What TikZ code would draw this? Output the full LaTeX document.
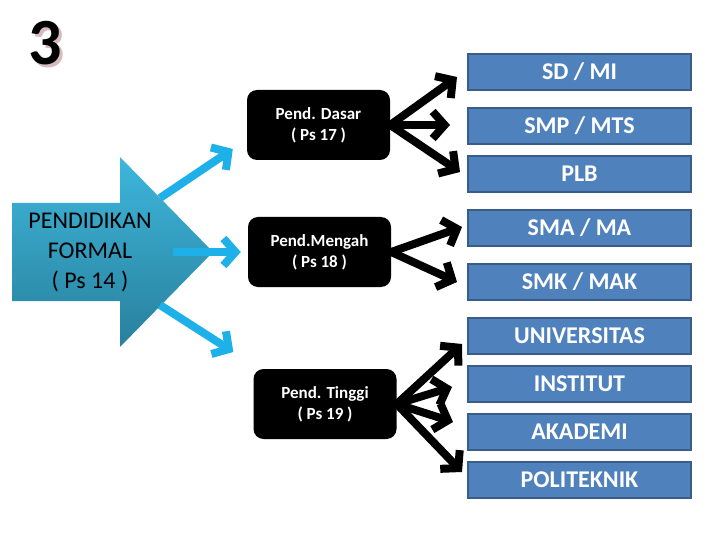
\documentclass[tikz,border=0pt]{standalone}
\usepackage{fontspec}
\setmainfont{Carlito}
\usetikzlibrary{arrows.meta, calc, positioning}
\definecolor{boxblue}{RGB}{79,129,189}
\definecolor{boxedge}{RGB}{56,93,138}
\definecolor{cyanarrow}{RGB}{30,177,233}
\definecolor{shapetop}{RGB}{62,182,220}
\definecolor{shapebottom}{RGB}{40,128,156}
\definecolor{digitshadow}{RGB}{214,186,190}

\begin{document}
\begin{tikzpicture}[x=1pt, y=-1pt,
    jenjang/.style={fill=black, text=white, rounded corners=10pt, minimum width=143pt,
        minimum height=70pt, align=center, font=\bfseries\fontsize{17}{21}\selectfont},
    satuan/.style={fill=boxblue, draw=boxedge, line width=2pt, text=white, minimum width=223pt,
        minimum height=36pt, font=\bfseries\fontsize{24}{28}\selectfont},
    panah/.style={line width=8pt, -{Straight Barb[length=12pt, width=27pt]}},
    panahbiru/.style={panah, cyanarrow},
  ]
    \useasboundingbox (0,0) rectangle (720,540);

    % Number
    \node[text=digitshadow, font=\bfseries\fontsize{66}{66}\selectfont] at (48,46) {3};
    \node[font=\bfseries\fontsize{66}{66}\selectfont] (nomor) at (45,43) {3};

    % Big arrow
    \shade[top color=shapetop, bottom color=shapebottom]
        (12,203) -- (120,203) -- (120,157) -- (213,252) -- (120,347) -- (120,301) -- (12,301) -- cycle;
    \node[align=center, font=\fontsize{24}{30}\selectfont] (formal) at (90,252) {PENDIDIKAN\\FORMAL\\( Ps 14 )};
    \coordinate (keatas) at (160,198);
    \coordinate (ketengah) at (173,252);
    \coordinate (kebawah) at (160,305);

    % Levels
    \node[jenjang] (dasar) at (318.5,125) {Pend. Dasar\\( Ps 17 )};
    \node[jenjang] (menengah) at (319.5,252) {Pend.Mengah\\( Ps 18 )};
    \node[jenjang] (tinggi) at (325,404) {Pend. Tinggi\\( Ps 19 )};

    % Schools
    \node[satuan] (sd) at (579.5,72) {SD / MI};
    \node[satuan] (smp) at (579.5,126) {SMP / MTS};
    \node[satuan] (plb) at (579.5,174) {PLB};
    \node[satuan] (sma) at (579.5,228) {SMA / MA};
    \node[satuan] (smk) at (579.5,282) {SMK / MAK};
    \node[satuan] (univ) at (579.5,336) {UNIVERSITAS};
    \node[satuan] (inst) at (579.5,384) {INSTITUT};
    \node[satuan] (akad) at (579.5,432) {AKADEMI};
    \node[satuan] (poli) at (579.5,480) {POLITEKNIK};

    % Cyan arrows
    \draw[panahbiru] (keatas) -- ($(dasar.west)+(-14,24)$);
    \draw[panahbiru] (ketengah) -- ($(menengah.west)+(-7,0)$);
    \draw[panahbiru] (kebawah) -- ($(tinggi.west)+(-20,-52)$);

    % Black arrows
    \draw[panah] (dasar.east) -- ($(sd.west)+(-10,5)$);
    \draw[panah] (dasar.east) -- ($(smp.west)+(-17,-1)$);
    \draw[panah] (dasar.east) -- ($(plb.west)+(-7,-2)$);
    \draw[panah] (menengah.east) -- ($(sma.west)+(-5,-1)$);
    \draw[panah] (menengah.east) -- ($(smk.west)+(-10,0)$);
    \draw[panah] (tinggi.east) -- ($(univ.west)+(-5,8)$);
    \draw[panah] (tinggi.east) -- ($(inst.west)+(-15,3)$);
    \draw[panah] (tinggi.east) -- ($(akad.west)+(-14,-10)$);
    \draw[panah] (tinggi.east) -- ($(poli.west)+(-5,-8)$);
\end{tikzpicture}
\end{document}
